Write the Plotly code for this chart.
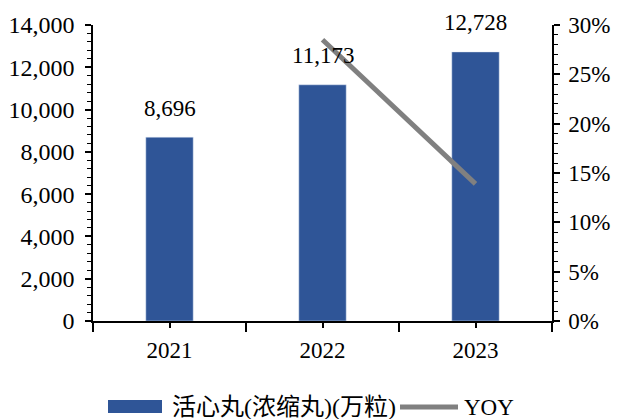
import plotly.graph_objects as go

# ---- data ----
years = ["2021", "2022", "2023"]
volume = [8696, 11173, 12728]          # 活心丸(浓缩丸)(万粒)
yoy_years = ["2022", "2023"]
yoy = [28.5, 13.9]                      # YOY %
bar_name = "活心丸(浓缩丸)(万粒)"
line_name = "YOY"

# ---- style ----
W, H = 623, 419
OFF = 8  # page body margin
L, R, T, B = 93, 71, 25, 98   # in window pixels
PW, PH = W - L - R, H - T - B
FONT = "Liberation Serif, Times New Roman, Noto Sans CJK SC, serif"
BAR_C = "#2F5597"
LINE_C = "#808080"
FS = 23

xpos = list(range(len(years)))
yoy_x = [years.index(y) for y in yoy_years]

def px(x):
    return (x - L) / PW

def py(y):
    return (H - B - y) / PH

fig = go.Figure()
fig.add_trace(go.Bar(x=xpos, y=volume, marker_color=BAR_C, width=0.31,
                     name=bar_name, showlegend=False))
fig.add_trace(go.Scatter(x=yoy_x, y=yoy, yaxis="y2", mode="lines",
                         line=dict(color=LINE_C, width=5), name=line_name,
                         showlegend=False))

annotations = []
for xi, v in zip(xpos, volume):
    annotations.append(dict(x=xi, y=v, xref="x", yref="y", text=f"{v:,}",
                            showarrow=False, yshift=29, yanchor="middle",
                            font=dict(family=FONT, size=FS, color="black")))

# custom legend
shapes = [
    dict(type="rect", xref="paper", yref="paper", x0=px(108), x1=px(162),
         y0=py(413), y1=py(400), fillcolor=BAR_C, line=dict(width=0)),
    dict(type="line", xref="paper", yref="paper", x0=px(400), x1=px(458),
         y0=py(407), y1=py(407), line=dict(color=LINE_C, width=5)),
]
annotations.append(dict(x=px(170), y=py(407), xref="paper", yref="paper",
                        text=bar_name, showarrow=False, xanchor="left",
                        yanchor="middle",
                        font=dict(family=FONT, size=24, color="black")))
annotations.append(dict(x=px(462), y=py(407), xref="paper", yref="paper",
                        text=line_name, showarrow=False, xanchor="left",
                        yanchor="middle",
                        font=dict(family=FONT, size=FS, color="black")))

fig.update_layout(
    width=W - OFF, height=H - OFF,
    margin=dict(l=L - OFF, r=R, t=T - OFF, b=B, autoexpand=False),
    paper_bgcolor="white", plot_bgcolor="white",
    font=dict(family=FONT, size=FS, color="black"),
    showlegend=False,
    xaxis=dict(range=[-0.5, len(years) - 0.5], tickvals=xpos, ticktext=years,
               automargin=False,
               showgrid=False, zeroline=False, showline=True,
               linecolor="black", linewidth=1.5, ticks="outside", ticklen=5,
               tickwidth=1.5, tickcolor="black", ticklabelstandoff=3,
               minor=dict(tickvals=[i - 0.5 for i in range(len(years) + 1)],
                          ticks="outside", ticklen=9, tickwidth=1.5,
                          tickcolor="black", showgrid=False)),
    yaxis=dict(range=[0, 14000], dtick=2000, tickformat=",d",
               automargin=False, tickfont=dict(size=24),
               showgrid=False, zeroline=False, showline=True,
               linecolor="black", linewidth=1.5, ticks="outside", ticklen=6,
               tickwidth=1.5, tickcolor="black", ticklabelstandoff=6,
               minor=dict(dtick=400, ticks="outside", ticklen=4, tickwidth=1.2,
                          tickcolor="black", showgrid=False)),
    yaxis2=dict(range=[0, 30], dtick=5, ticksuffix="%", overlaying="y",
                automargin=False,
                side="right", showgrid=False, zeroline=False, showline=True,
                linecolor="black", linewidth=1.5, ticks="outside", ticklen=6,
                tickwidth=1.5, tickcolor="black", ticklabelstandoff=4,
                minor=dict(dtick=1, ticks="outside", ticklen=4, tickwidth=1.2,
                           tickcolor="black", showgrid=False)),
    shapes=shapes,
    annotations=annotations,
)

fig.write_html("out.html")
